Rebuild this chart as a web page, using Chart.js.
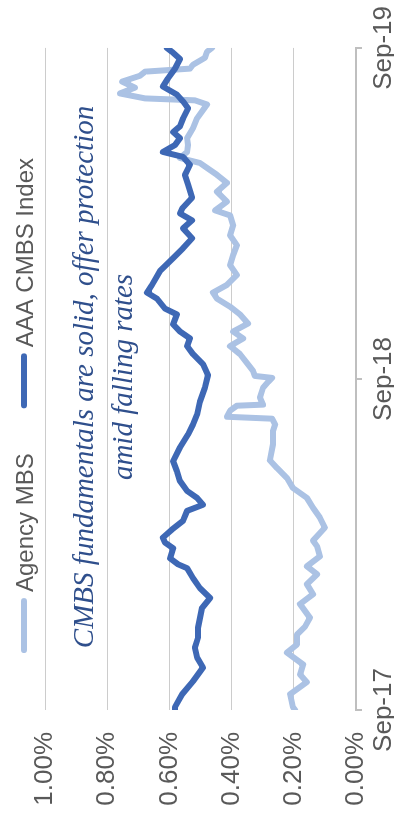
<!DOCTYPE html>
<html>
<head>
<meta charset="utf-8">
<script src="https://cdn.jsdelivr.net/npm/chart.js@4.4.0/dist/chart.umd.min.js"></script>
<style>
  html, body { margin: 0; padding: 0; background: #fff; overflow: hidden; }
  /* chart is laid out landscape, then turned to read bottom-up */
  #wrap {
    position: absolute; left: 0; top: 0;
    width: 819px; height: 394px;
    transform-origin: 0 0;
    transform: translateY(819px) rotate(-90deg);
  }
</style>
</head>
<body>
<div id="wrap"><canvas id="spreads" width="819" height="394"></canvas></div>
<script>
const tickMonths = [0, 12, 24];
const tickLabels = ['Sep-17', 'Sep-18', 'Sep-19'];
const seriesNames = ['Agency MBS', 'AAA CMBS Index'];
const captionLines = ['CMBS fundamentals are solid, offer protection', 'amid falling rates'];

// months since Sep-17, spread in %
const agencyMonths = [0, 0.11, 0.57, 1.01, 1.29, 1.65, 2.08, 2.37, 2.73, 3.02,
  3.34, 3.84, 4.20, 4.56, 4.92, 5.21, 5.57, 5.93, 6.14, 6.61,
  6.97, 7.33, 7.69, 8.05, 8.41, 8.77, 9.05, 9.63, 10.10, 10.35,
  10.56, 10.63, 10.85, 11.03, 11.07, 11.32, 11.68, 11.89, 12.04, 12.11,
  12.29, 12.57, 12.90, 13.19, 13.47, 13.72, 14.01, 14.34, 14.62, 14.91,
  15.13, 15.41, 15.77, 16.13, 16.49, 16.85, 17.21, 17.57, 17.93, 18.11,
  18.43, 18.79, 19.11, 19.40, 19.65, 19.83, 20.01, 20.23, 20.48, 20.73,
  21.09, 21.45, 21.95, 22.10, 22.17, 22.35, 22.56, 22.78, 22.99, 23.14,
  23.25, 23.39, 23.64, 23.86, 24.00];
const agencyValues = [0.196, 0.203, 0.212, 0.158, 0.180, 0.170, 0.222, 0.190, 0.190, 0.164,
  0.148, 0.180, 0.138, 0.158, 0.125, 0.158, 0.116, 0.125, 0.138, 0.100,
  0.116, 0.138, 0.158, 0.203, 0.222, 0.254, 0.277, 0.267, 0.267, 0.260,
  0.270, 0.415, 0.405, 0.383, 0.299, 0.309, 0.299, 0.283, 0.270, 0.325,
  0.331, 0.350, 0.373, 0.405, 0.363, 0.395, 0.347, 0.373, 0.405, 0.447,
  0.460, 0.415, 0.383, 0.405, 0.395, 0.383, 0.405, 0.395, 0.405, 0.453,
  0.415, 0.447, 0.415, 0.447, 0.479, 0.502, 0.566, 0.543, 0.540, 0.543,
  0.524, 0.511, 0.479, 0.518, 0.678, 0.759, 0.711, 0.752, 0.695, 0.678,
  0.534, 0.524, 0.486, 0.479, 0.463];

const cmbsMonths = [0, 0.11, 0.57, 1.04, 1.54, 1.90, 2.26, 2.62, 2.98, 3.70,
  4.06, 4.42, 4.78, 5.14, 5.28, 5.50, 5.86, 6.07, 6.25, 6.54,
  6.86, 7.22, 7.44, 7.69, 7.94, 8.30, 8.66, 9.02, 9.52, 9.99,
  10.35, 10.71, 11.17, 11.68, 12.14, 12.54, 12.90, 13.19, 13.47, 13.72,
  13.98, 14.34, 14.55, 14.91, 15.13, 15.41, 15.92, 16.38, 16.74, 17.10,
  17.46, 17.75, 18.00, 18.18, 18.57, 19.04, 19.40, 19.76, 20.05, 20.23,
  20.48, 20.73, 20.95, 21.16, 21.45, 21.81, 22.06, 22.31, 22.60, 22.89,
  23.25, 23.60, 23.86, 24.00];
const cmbsValues = [0.582, 0.582, 0.559, 0.524, 0.492, 0.511, 0.518, 0.508, 0.508, 0.495,
  0.469, 0.502, 0.524, 0.543, 0.572, 0.598, 0.588, 0.614, 0.621, 0.592,
  0.556, 0.543, 0.492, 0.511, 0.543, 0.566, 0.576, 0.588, 0.566, 0.540,
  0.524, 0.511, 0.502, 0.486, 0.476, 0.492, 0.524, 0.543, 0.534, 0.566,
  0.588, 0.576, 0.614, 0.640, 0.672, 0.656, 0.630, 0.588, 0.556, 0.527,
  0.556, 0.527, 0.566, 0.559, 0.527, 0.540, 0.550, 0.534, 0.556, 0.621,
  0.582, 0.566, 0.588, 0.566, 0.556, 0.540, 0.556, 0.576, 0.621, 0.605,
  0.582, 0.566, 0.592, 0.608];

const lightBlue = '#abc2e4';
const darkBlue = '#3e68b5';
const tickColor = '#595959';
const sansFont = '"Liberation Sans", Arial, sans-serif';

function toPoints(months, values) {
  return months.map((m, i) => ({ x: m, y: values[i] }));
}

// legend row and the italic caption are drawn by hand
const legendAndCaption = {
  id: 'legendAndCaption',
  afterDraw(chart) {
    const ctx = chart.ctx;
    const area = chart.chartArea;
    const sets = chart.data.datasets;
    ctx.save();
    ctx.font = '24px ' + sansFont;
    const lineLen = 55, gap = 6, between = 45;
    const widths = sets.map(ds => ctx.measureText(ds.label).width);
    const total = widths.reduce((s, w) => s + lineLen + gap + w, 0) + between * (sets.length - 1);
    let x = chart.width / 2 + 4 - total / 2;
    sets.forEach((ds, i) => {
      ctx.strokeStyle = ds.borderColor;
      ctx.lineWidth = 6;
      ctx.lineCap = 'round';
      ctx.beginPath();
      ctx.moveTo(x + 3, 24);
      ctx.lineTo(x + lineLen - 3, 24);
      ctx.stroke();
      x += lineLen + gap;
      ctx.fillStyle = tickColor;
      ctx.textBaseline = 'alphabetic';
      ctx.textAlign = 'left';
      ctx.fillText(ds.label, x, 33);
      x += widths[i] + between;
    });

    ctx.font = 'italic 29px "Liberation Serif", "Times New Roman", serif';
    ctx.fillStyle = '#2f4f8c';
    ctx.textAlign = 'center';
    const cx = (area.left + area.right) / 2 + 2;
    captionLines.forEach((t, i) => ctx.fillText(t, cx, 93 + i * 39));
    ctx.restore();
  }
};

new Chart(document.getElementById('spreads'), {
  type: 'line',
  data: {
    datasets: [
      {
        label: seriesNames[0],
        data: toPoints(agencyMonths, agencyValues),
        borderColor: lightBlue,
        backgroundColor: lightBlue,
        order: 1
      },
      {
        label: seriesNames[1],
        data: toPoints(cmbsMonths, cmbsValues),
        borderColor: darkBlue,
        backgroundColor: darkBlue,
        order: 0
      }
    ]
  },
  options: {
    responsive: false,
    animation: false,
    devicePixelRatio: 1,
    parsing: false,
    elements: {
      line: { borderWidth: 6, tension: 0, borderJoinStyle: 'round', borderCapStyle: 'round' },
      point: { radius: 0, hoverRadius: 0 }
    },
    layout: { padding: { top: 45, right: 42, left: 0, bottom: 0 } },
    plugins: {
      legend: { display: false },
      tooltip: { enabled: false }
    },
    scales: {
      x: {
        type: 'linear',
        min: 0,
        max: 24,
        afterBuildTicks: s => { s.ticks = tickMonths.map(v => ({ value: v })); },
        afterFit: s => { s.height = 38; },
        ticks: {
          autoSkip: false,
          maxRotation: 0,
          padding: 6,
          color: tickColor,
          font: { family: sansFont, size: 26 },
          callback: v => tickLabels[tickMonths.indexOf(v)]
        },
        grid: { drawOnChartArea: false, drawTicks: true, tickLength: 6, color: '#bfbfbf', lineWidth: 2 },
        border: { color: '#bfbfbf', width: 2 }
      },
      y: {
        min: 0,
        max: 1,
        afterFit: s => { s.width = 109; },
        ticks: {
          stepSize: 0.2,
          padding: 22,
          color: tickColor,
          font: { family: sansFont, size: 26 },
          callback: v => v.toFixed(2) + '%'
        },
        grid: { color: '#cccccc', lineWidth: 1, drawTicks: false },
        border: { display: false }
      }
    }
  },
  plugins: [legendAndCaption]
});
</script>
</body>
</html>
